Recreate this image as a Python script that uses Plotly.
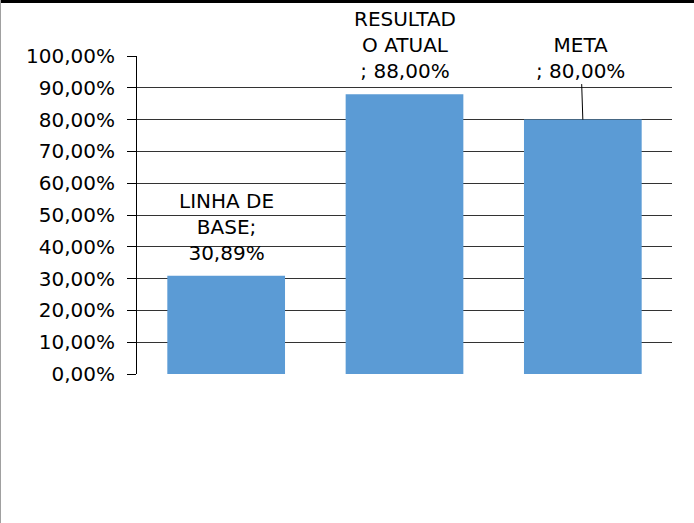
import plotly.graph_objects as go

categories = ["LINHA DE BASE", "RESULTADO ATUAL", "META"]
values = [30.89, 88.00, 80.00]
label_prefixes = ["LINHA DE<br>BASE;<br>", "RESULTAD<br>O ATUAL<br>; ", "META<br>; "]
y_ticks = [0, 10, 20, 30, 40, 50, 60, 70, 80, 90, 100]
grid_ticks = [10, 20, 30, 40, 50, 60, 70, 80, 90]

W, H = 694, 523
ML, MR, MT, MB = 137, 22, 56, 149
FONT = "DejaVu Sans"
FS = 20


def fmt(v):
    return f"{v:.2f}".replace(".", ",") + "%"


fig = go.Figure()
# invisible trace to activate the gridline axis
fig.add_trace(go.Scatter(x=[categories[0]], y=[0], yaxis="y2", mode="markers",
                         marker=dict(opacity=0), hoverinfo="skip", showlegend=False))
fig.add_trace(go.Bar(
    x=categories, y=values,
    marker=dict(color="#5B9BD5", line=dict(width=0)),
    hoverinfo="skip",
))

annotations = []
for c, v, p in zip(categories, values, label_prefixes):
    txt = p + fmt(v)
    if c == "META":
        annotations.append(dict(
            x=c, y=v, xref="x", yref="y", text=txt, showarrow=True,
            arrowhead=0, arrowwidth=1, arrowcolor="#000000",
            ax=-2, ay=-62, font=dict(family=FONT, size=FS, color="#000000"),
        ))
    else:
        annotations.append(dict(
            x=c, y=v, xref="x", yref="y", text=txt, showarrow=False,
            yanchor="bottom", yshift=9,
            font=dict(family=FONT, size=FS, color="#000000"),
        ))

pw = W - ML - MR
ph = H - MT - MB
shapes = [
    # top border
    dict(type="line", xref="paper", yref="paper",
         x0=-ML / pw, x1=(W - ML) / pw, y0=(MT + ph - 1.5) / ph, y1=(MT + ph - 1.5) / ph,
         line=dict(color="#000000", width=3)),
    # left border
    dict(type="line", xref="paper", yref="paper",
         x0=(0.5 - ML) / pw, x1=(0.5 - ML) / pw, y0=-MB / ph, y1=(MT + ph) / ph,
         line=dict(color="#A0A0A0", width=1)),
]

fig.update_layout(
    width=W, height=H,
    margin=dict(l=ML, r=MR, t=MT, b=MB, pad=0),
    paper_bgcolor="white", plot_bgcolor="white",
    bargap=0.34,
    showlegend=False,
    annotations=annotations,
    shapes=shapes,
    xaxis=dict(visible=False, showgrid=False, zeroline=False),
    yaxis=dict(
        range=[0, 100], tickvals=y_ticks, ticktext=[fmt(t) for t in y_ticks],
        showgrid=False, zeroline=False,
        showline=True, linecolor="#000000", linewidth=1,
        ticks="outside", ticklen=9, tickcolor="#000000", tickwidth=1,
        ticklabelstandoff=8,
        tickfont=dict(family=FONT, size=FS, color="#000000"),
    ),
    yaxis2=dict(
        range=[0, 100], overlaying="y", tickvals=grid_ticks,
        showticklabels=False, showgrid=True, gridcolor="#333333", gridwidth=1,
        zeroline=False, showline=False, ticks="",
    ),
)
fig.write_html("out.html", config={"displayModeBar": False},
               post_script="document.body.style.margin='0';document.body.style.padding='0';")
